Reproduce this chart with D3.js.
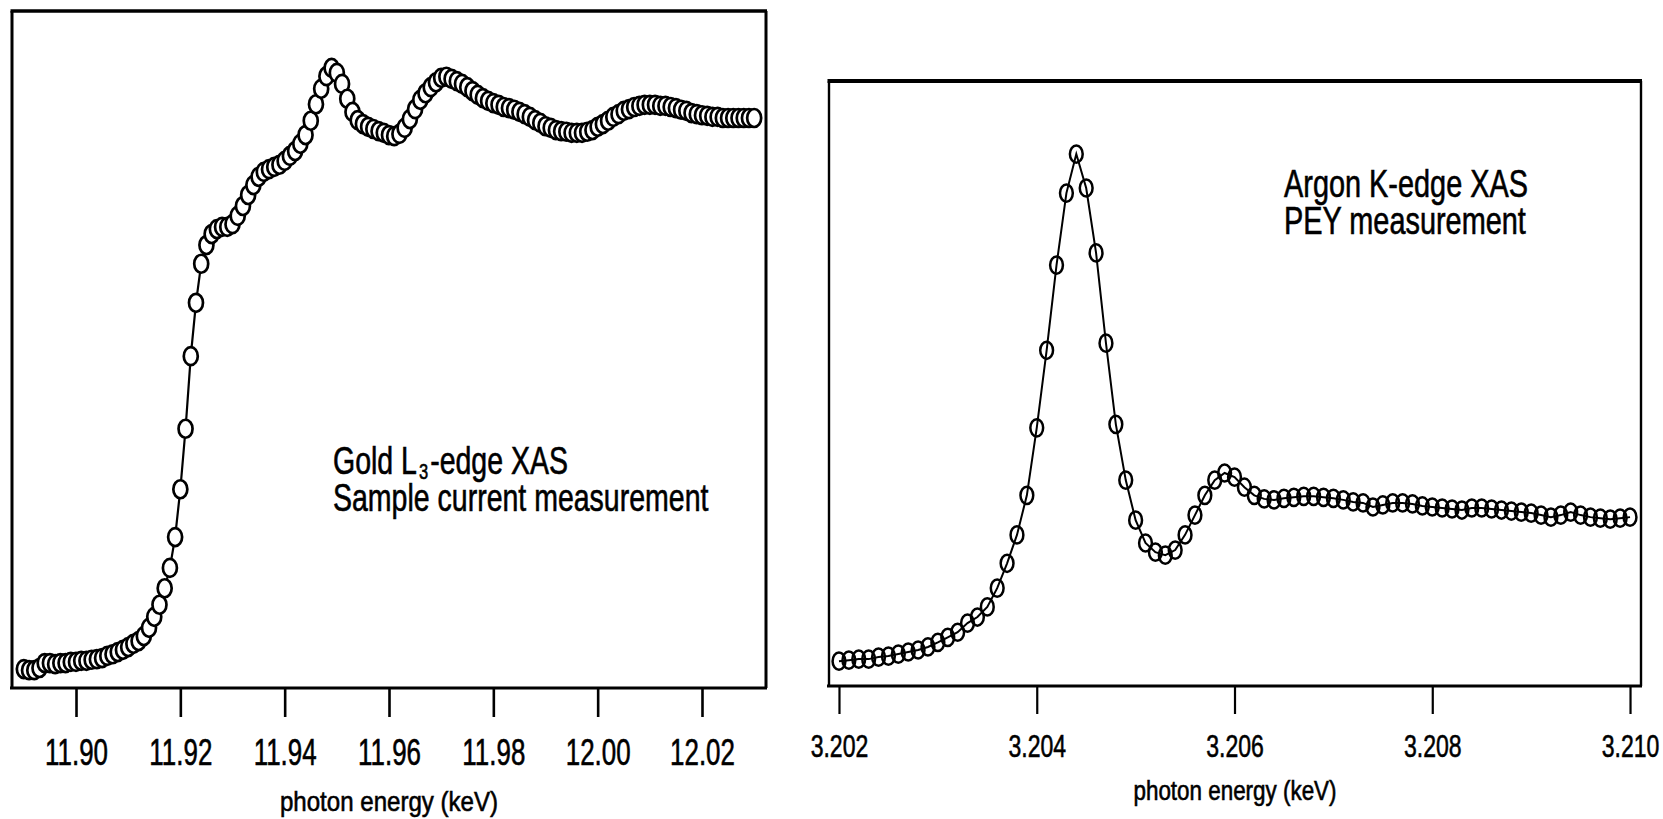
<!DOCTYPE html>
<html>
<head>
<meta charset="utf-8">
<script src="https://cdn.jsdelivr.net/npm/d3@7"></script>
<style>
  html, body { margin: 0; padding: 0; background: #fff; }
  svg { display: block; }
  text { font-family: "Liberation Sans", Arial, sans-serif; fill: #000; stroke: #000; stroke-width: 0.6px; }
</style>
</head>
<body>
<svg id="chart" width="1663" height="819"></svg>
<script>
// Gold L3-edge XAS, sample current (normalised), 1 eV steps
const goldEnergy = [
  11.890, 11.891, 11.892, 11.893, 11.894, 11.895, 11.896, 11.897, 11.898, 11.899,
  11.900, 11.901, 11.902, 11.903, 11.904, 11.905, 11.906, 11.907, 11.908, 11.909,
  11.910, 11.911, 11.912, 11.913, 11.914, 11.915, 11.916, 11.917, 11.918, 11.919,
  11.920, 11.921, 11.922, 11.923, 11.924, 11.925, 11.926, 11.927, 11.928, 11.929,
  11.930, 11.931, 11.932, 11.933, 11.934, 11.935, 11.936, 11.937, 11.938, 11.939,
  11.940, 11.941, 11.942, 11.943, 11.944, 11.945, 11.946, 11.947, 11.948, 11.949,
  11.950, 11.951, 11.952, 11.953, 11.954, 11.955, 11.956, 11.957, 11.958, 11.959,
  11.960, 11.961, 11.962, 11.963, 11.964, 11.965, 11.966, 11.967, 11.968, 11.969,
  11.970, 11.971, 11.972, 11.973, 11.974, 11.975, 11.976, 11.977, 11.978, 11.979,
  11.980, 11.981, 11.982, 11.983, 11.984, 11.985, 11.986, 11.987, 11.988, 11.989,
  11.990, 11.991, 11.992, 11.993, 11.994, 11.995, 11.996, 11.997, 11.998, 11.999,
  12.000, 12.001, 12.002, 12.003, 12.004, 12.005, 12.006, 12.007, 12.008, 12.009,
  12.010, 12.011, 12.012, 12.013, 12.014, 12.015, 12.016, 12.017, 12.018, 12.019,
  12.020, 12.021, 12.022, 12.023, 12.024, 12.025, 12.026, 12.027, 12.028, 12.029,
  12.030
];
const goldSignal = [
  -0.002, -0.004, -0.004, 0.000, 0.009, 0.009, 0.007, 0.009, 0.009, 0.011,
  0.011, 0.013, 0.013, 0.015, 0.016, 0.018, 0.022, 0.025, 0.029, 0.033,
  0.038, 0.044, 0.049, 0.058, 0.073, 0.093, 0.115, 0.145, 0.182, 0.238,
  0.325, 0.435, 0.567, 0.664, 0.735, 0.769, 0.789, 0.798, 0.802, 0.802,
  0.807, 0.822, 0.840, 0.860, 0.878, 0.893, 0.902, 0.907, 0.911, 0.915,
  0.922, 0.931, 0.940, 0.953, 0.969, 0.995, 1.025, 1.053, 1.076, 1.091,
  1.082, 1.062, 1.035, 1.011, 0.996, 0.989, 0.984, 0.980, 0.976, 0.973,
  0.969, 0.967, 0.971, 0.982, 0.998, 1.016, 1.033, 1.045, 1.056, 1.065,
  1.073, 1.075, 1.071, 1.067, 1.062, 1.056, 1.049, 1.042, 1.036, 1.031,
  1.027, 1.024, 1.020, 1.018, 1.015, 1.011, 1.007, 1.002, 0.996, 0.991,
  0.985, 0.982, 0.978, 0.976, 0.975, 0.973, 0.973, 0.973, 0.975, 0.978,
  0.984, 0.989, 0.995, 1.002, 1.007, 1.013, 1.016, 1.020, 1.022, 1.024,
  1.024, 1.024, 1.022, 1.022, 1.020, 1.018, 1.015, 1.013, 1.009, 1.007,
  1.005, 1.004, 1.002, 1.002, 1.000, 1.000, 1.000, 1.000, 1.000, 1.000,
  1.000
];
const goldTicks = [11.90, 11.92, 11.94, 11.96, 11.98, 12.00, 12.02];

// Argon K-edge XAS, partial electron yield (normalised), 0.1 eV steps
const argonEnergy = [
  3.2020, 3.2021, 3.2022, 3.2023, 3.2024, 3.2025, 3.2026, 3.2027, 3.2028, 3.2029,
  3.2030, 3.2031, 3.2032, 3.2033, 3.2034, 3.2035, 3.2036, 3.2037, 3.2038, 3.2039,
  3.2040, 3.2041, 3.2042, 3.2043, 3.2044, 3.2045, 3.2046, 3.2047, 3.2048, 3.2049,
  3.2050, 3.2051, 3.2052, 3.2053, 3.2054, 3.2055, 3.2056, 3.2057, 3.2058, 3.2059,
  3.2060, 3.2061, 3.2062, 3.2063, 3.2064, 3.2065, 3.2066, 3.2067, 3.2068, 3.2069,
  3.2070, 3.2071, 3.2072, 3.2073, 3.2074, 3.2075, 3.2076, 3.2077, 3.2078, 3.2079,
  3.2080, 3.2081, 3.2082, 3.2083, 3.2084, 3.2085, 3.2086, 3.2087, 3.2088, 3.2089,
  3.2090, 3.2091, 3.2092, 3.2093, 3.2094, 3.2095, 3.2096, 3.2097, 3.2098, 3.2099,
  3.2100
];
const argonSignal = [
  0.000, 0.002, 0.004, 0.004, 0.008, 0.010, 0.014, 0.018, 0.022, 0.028,
  0.037, 0.047, 0.057, 0.075, 0.087, 0.107, 0.144, 0.193, 0.249, 0.327,
  0.460, 0.613, 0.781, 0.923, 1.000, 0.933, 0.805, 0.627, 0.467, 0.357,
  0.278, 0.233, 0.215, 0.209, 0.219, 0.249, 0.288, 0.327, 0.357, 0.371,
  0.363, 0.343, 0.327, 0.320, 0.318, 0.321, 0.323, 0.325, 0.325, 0.323,
  0.321, 0.318, 0.314, 0.312, 0.304, 0.308, 0.312, 0.312, 0.310, 0.306,
  0.304, 0.302, 0.300, 0.298, 0.302, 0.302, 0.300, 0.298, 0.296, 0.294,
  0.292, 0.288, 0.284, 0.288, 0.294, 0.288, 0.284, 0.282, 0.280, 0.282,
  0.284
];
const argonTicks = [3.202, 3.204, 3.206, 3.208, 3.210];

const axisTitle = "photon energy (keV)";

const svg = d3.select("#chart");

// squeeze a text element horizontally to a fraction of its natural width
function narrow(node, sx) {
  const L = node.getComputedTextLength();
  d3.select(node).attr("textLength", L * sx).attr("lengthAdjust", "spacingAndGlyphs");
  return L * sx;
}

// lay out a run of text pieces side by side: [string, fontSize, baselineShift]
function textRun(parent, x0, y0, sx, pieces) {
  let cx = x0;
  pieces.forEach(([s, fs, dy]) => {
    const t = parent.append("text").attr("x", cx).attr("y", y0 + dy)
      .attr("font-size", fs).text(s);
    cx += narrow(t.node(), sx) + 2;
  });
}

function panel(cfg) {
  const g = svg.append("g");
  const x = d3.scaleLinear().domain(cfg.xDomain).range([cfg.left, cfg.right]);
  const y = d3.scaleLinear().domain(cfg.yDomain).range([cfg.bottom, cfg.top]);
  const pts = cfg.energy.map((e, i) => [e, cfg.signal[i]]);

  // frame: top, left, right
  g.append("line").attr("x1", cfg.left - 1.5).attr("x2", cfg.right + 1)
    .attr("y1", cfg.top).attr("y2", cfg.top)
    .attr("stroke", "#000").attr("stroke-width", cfg.topW);
  g.append("line").attr("x1", cfg.left).attr("x2", cfg.left)
    .attr("y1", cfg.top).attr("y2", cfg.bottom)
    .attr("stroke", "#000").attr("stroke-width", cfg.sideW);
  g.append("line").attr("x1", cfg.right).attr("x2", cfg.right)
    .attr("y1", cfg.top).attr("y2", cfg.bottom)
    .attr("stroke", "#000").attr("stroke-width", cfg.sideW);

  // bottom axis
  const ax = d3.axisBottom(x).tickValues(cfg.ticks)
    .tickFormat(cfg.fmt).tickSize(cfg.tickLen).tickSizeOuter(0);
  const axg = g.append("g").attr("transform", `translate(0,${cfg.bottom})`).call(ax);
  axg.select(".domain")
    .attr("d", `M${cfg.left - 2},0H${cfg.right + 1}`)
    .attr("stroke", "#000").attr("stroke-width", cfg.axisW);
  axg.selectAll(".tick line").attr("stroke", "#000").attr("stroke-width", cfg.tickW);
  axg.selectAll(".tick text")
    .attr("dy", null)
    .attr("y", cfg.labelBase - cfg.bottom)
    .attr("font-size", cfg.tickFont)
    .attr("font-family", "'Liberation Sans', Arial, sans-serif")
    .attr("fill", "#000")
    .each(function () { narrow(this, cfg.tickSX); });

  // axis title
  const title = g.append("text")
    .attr("text-anchor", "middle")
    .attr("font-size", cfg.titleFont)
    .attr("x", (cfg.left + cfg.right) / 2).attr("y", cfg.titleBase)
    .text(axisTitle);
  narrow(title.node(), cfg.titleSX);

  // data
  const line = d3.line().x(d => x(d[0])).y(d => y(d[1]));
  const path = g.append("path").datum(pts)
    .attr("d", line).attr("fill", "none")
    .attr("stroke", "#000").attr("stroke-width", cfg.lineW);
  g.append("g").selectAll("ellipse").data(pts).join("ellipse")
    .attr("cx", d => x(d[0])).attr("cy", d => y(d[1]))
    .attr("rx", cfg.rx).attr("ry", cfg.ry)
    .attr("fill", cfg.markFill).attr("stroke", "#000").attr("stroke-width", cfg.markW);
  if (cfg.lineOnTop) path.raise();

  // annotation lines
  cfg.note.forEach((pieces, i) => {
    textRun(g, cfg.noteX, cfg.noteY + i * cfg.noteGap, cfg.noteSX, pieces);
  });
  return g;
}

// left: gold
panel({
  energy: goldEnergy, signal: goldSignal, ticks: goldTicks,
  fmt: d3.format(".2f"),
  xDomain: [11.88773, 12.03227], yDomain: [-0.0364, 1.1945],
  left: 12, right: 766, top: 11, bottom: 688,
  topW: 3.5, sideW: 3, axisW: 3.2, tickW: 2.6, tickLen: 29,
  labelBase: 765, tickFont: 36, tickSX: 0.72,
  titleBase: 811, titleFont: 28, titleSX: 0.86,
  lineW: 2.2, rx: 7, ry: 9, markW: 2.7, markFill: "#fff", lineOnTop: false,
  noteSX: 0.75, noteX: 333, noteY: 474, noteGap: 37,
  note: [
    [["Gold L", 38, 0], ["3", 22, 5], ["-edge XAS", 38, 0]],
    [["Sample current measurement", 38, 0]]
  ]
});

// right: argon
panel({
  energy: argonEnergy, signal: argonSignal, ticks: argonTicks,
  fmt: d3.format(".3f"),
  xDomain: [3.201899, 3.210111], yDomain: [-0.049, 1.144],
  left: 829, right: 1641, top: 81, bottom: 686,
  topW: 3.8, sideW: 2.4, axisW: 3.2, tickW: 2.2, tickLen: 28,
  labelBase: 757, tickFont: 32, tickSX: 0.72,
  titleBase: 800, titleFont: 27, titleSX: 0.83,
  lineW: 2, rx: 6.4, ry: 8.6, markW: 2.5, markFill: "none", lineOnTop: true,
  noteSX: 0.76, noteX: 1284, noteY: 197, noteGap: 37,
  note: [
    [["Argon K-edge XAS", 38, 0]],
    [["PEY measurement", 38, 0]]
  ]
});
</script>
</body>
</html>
